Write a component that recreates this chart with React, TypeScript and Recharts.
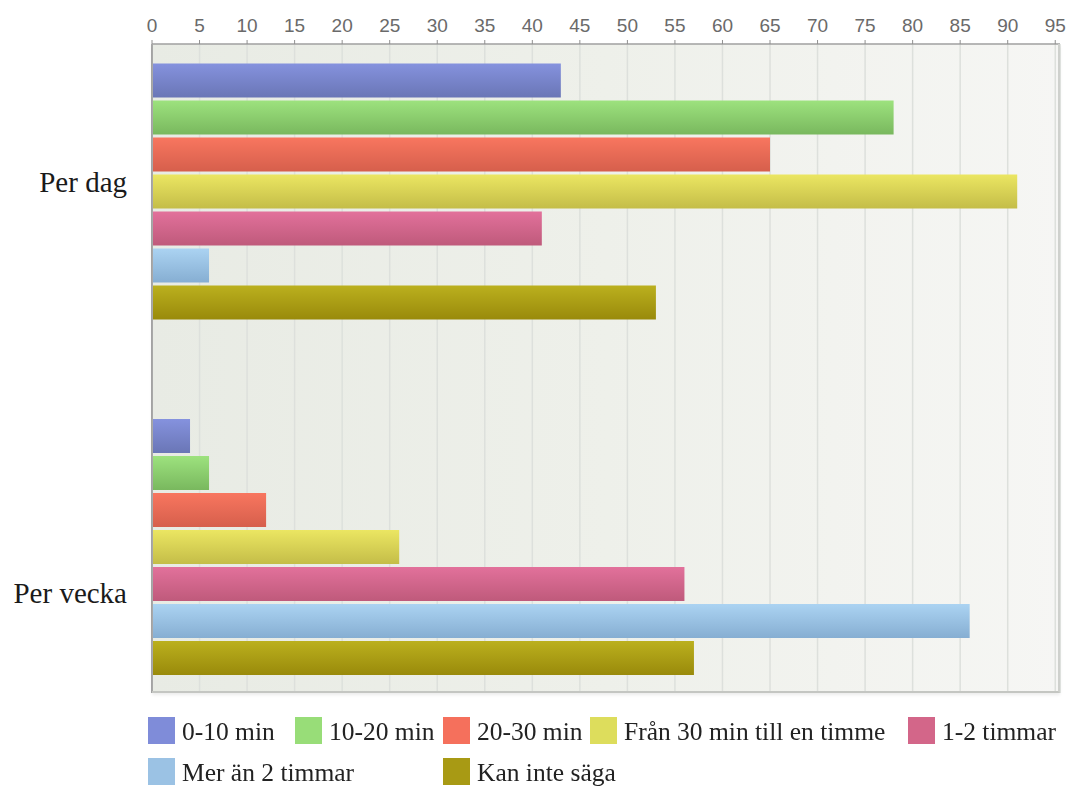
import React from "react";
import { Bar, BarChart, CartesianGrid, XAxis, YAxis } from "recharts";

const CATEGORIES = ["Per dag", "Per vecka"];
const SERIES = ["0-10 min", "10-20 min", "20-30 min", "Från 30 min till en timme", "1-2 timmar", "Mer än 2 timmar", "Kan inte säga"];
const VALUES_0_10 = [43, 4];
const VALUES_10_20 = [78, 6];
const VALUES_20_30 = [65, 12];
const VALUES_30_60 = [91, 26];
const VALUES_1_2H = [41, 56];
const VALUES_OVER_2H = [6, 86];
const VALUES_UNKNOWN = [53, 57];
const X_TICKS = [0, 5, 10, 15, 20, 25, 30, 35, 40, 45, 50, 55, 60, 65, 70, 75, 80, 85, 90, 95];

const SERIES_VALUES = [VALUES_0_10, VALUES_10_20, VALUES_20_30, VALUES_30_60, VALUES_1_2H, VALUES_OVER_2H, VALUES_UNKNOWN];

// legend swatch colour, bar gradient top, bar gradient bottom
const COLORS = [
  ["#7f8cd9", "#8592de", "#6a76b6"],
  ["#98dd78", "#9de27e", "#79b85e"],
  ["#f5705c", "#f8765f", "#d65f4c"],
  ["#dddd5c", "#ebe662", "#c4bd48"],
  ["#d36689", "#e2719b", "#bf5a7b"],
  ["#9bc2e4", "#abd3f2", "#86aed2"],
  ["#a89a14", "#bbb01e", "#998a0b"],
];

const LEGEND_WIDTHS = [147, 148, 147, 318, 150, 295, 200];
const LABEL_SHIFT = [1, 56];

const data = CATEGORIES.map((name, i) => {
  const row: Record<string, string | number> = { name };
  SERIES_VALUES.forEach((vals, s) => {
    row["s" + s] = vals[i];
  });
  return row;
});

const CategoryTick = (props: any) => {
  const { x, y, payload, index } = props;
  return (
    <text
      x={x}
      y={y + LABEL_SHIFT[index]}
      textAnchor="end"
      fontFamily="'Liberation Serif', 'Times New Roman', serif"
      fontSize={29}
      fill="#1a1a1a"
    >
      {payload.value}
    </text>
  );
};

export default function App() {
  return (
    <div style={{ position: "fixed", left: 0, top: 0, width: 1070, height: 787, background: "#fff" }}>
      <BarChart
        width={1070}
        height={787}
        data={data}
        layout="vertical"
        margin={{ top: 0, right: 10, bottom: 94, left: 0 }}
        barSize={34}
        barGap={3}
      >
        <defs>
          <linearGradient id="plotBg" x1="0" y1="0" x2="1" y2="0">
            <stop offset="0%" stopColor="#e8ebe4" />
            <stop offset="50%" stopColor="#eef0ea" />
            <stop offset="100%" stopColor="#f6f6f4" />
          </linearGradient>
          {COLORS.map((c, i) => (
            <linearGradient key={i} id={"bar" + i} x1="0" y1="0" x2="0" y2="1">
              <stop offset="0%" stopColor={c[1]} />
              <stop offset="100%" stopColor={c[2]} />
            </linearGradient>
          ))}
        </defs>
        <CartesianGrid horizontal={false} stroke="#dde0dc" strokeWidth={1.5} fill="url(#plotBg)" fillOpacity={1} />
        <XAxis
          type="number"
          orientation="top"
          domain={[0, 95.5]}
          ticks={X_TICKS}
          height={44}
          tickSize={4}
          tickMargin={8}
          stroke="#999"
          axisLine={{ stroke: "#a0a0a0", strokeWidth: 1.5 }}
          tickLine={{ stroke: "#909090" }}
          tick={{ fill: "#6a6a6a", fontSize: 19, fontFamily: "'Liberation Sans', Arial, sans-serif" }}
        />
        <YAxis
          type="category"
          dataKey="name"
          width={152}
          padding={{ top: -30.5, bottom: -31.5 }}
          tickSize={0}
          tickMargin={25}
          axisLine={{ stroke: "#a8a8a8", strokeWidth: 2 }}
          tickLine={false}
          tick={<CategoryTick />}
        />
        {SERIES.map((s, i) => (
          <Bar key={s} dataKey={"s" + i} name={s} fill={`url(#bar${i})`} isAnimationActive={false} />
        ))}
      </BarChart>
      <div
        style={{
          position: "absolute",
          left: 152,
          top: 44,
          width: 908,
          height: 649,
          borderRight: "2px solid #cfd1cd",
          borderBottom: "2px solid #c4c6c2",
          boxShadow: "0 2px 3px rgba(0,0,0,0.08)",
          boxSizing: "border-box",
          pointerEvents: "none",
        }}
      />
      <div
        style={{
          position: "absolute",
          left: 148,
          top: 717,
          width: 910,
          display: "flex",
          flexWrap: "wrap",
          fontFamily: "'Liberation Serif', 'Times New Roman', serif",
          fontSize: 25.5,
          color: "#222",
        }}
      >
        {SERIES.map((s, i) => (
          <div key={s} style={{ width: LEGEND_WIDTHS[i], height: 41, display: "flex", alignItems: "flex-start" }}>
            <div style={{ width: 27, height: 27, background: COLORS[i][0], flexShrink: 0 }} />
            <span style={{ marginLeft: 7, lineHeight: "29px", whiteSpace: "nowrap" }}>{s}</span>
          </div>
        ))}
      </div>
    </div>
  );
}
